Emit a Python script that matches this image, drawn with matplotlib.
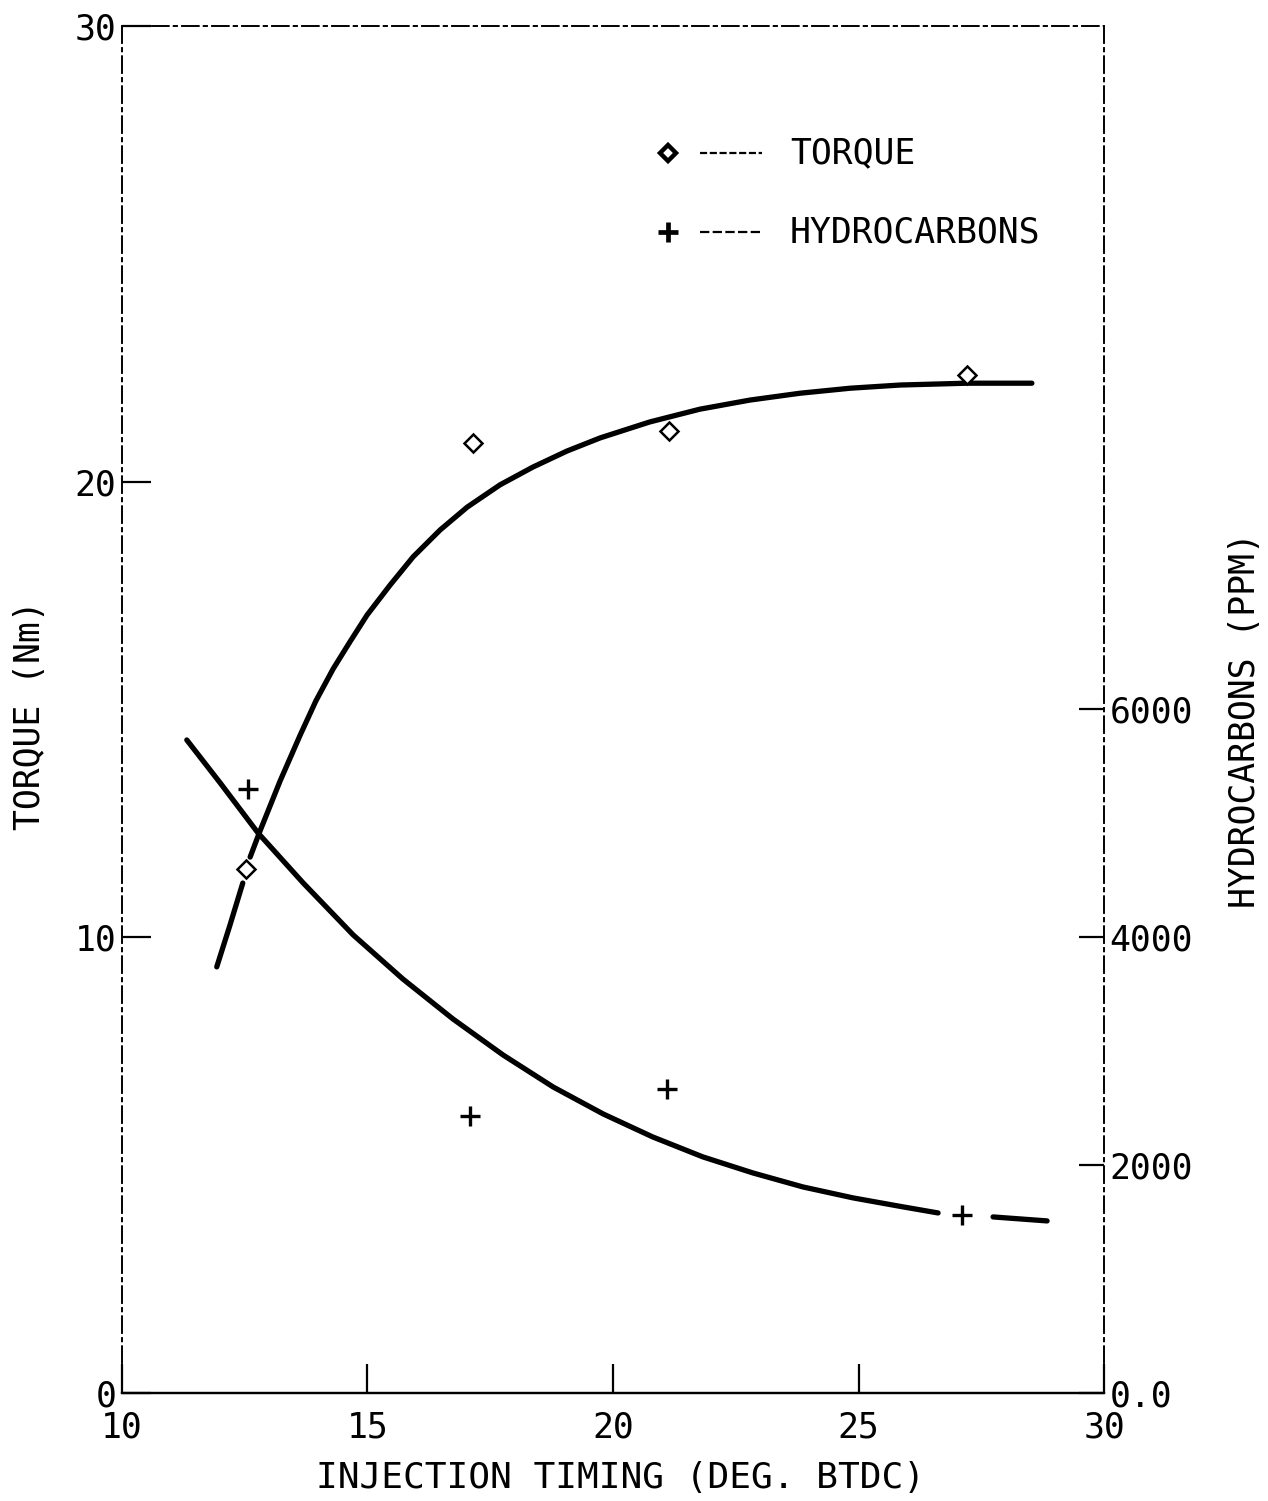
"""
torque_hc_plot.py
"""
import numpy as np
import matplotlib
matplotlib.use('Agg')
import matplotlib.pyplot as plt

plt.rcParams['font.family'] = ['DejaVu Sans Mono']
# ------------------------Measured points---------------------------------------
timing_pts = [12.53, 17.15, 21.15, 27.2]           # deg BTDC
torque_pts = [11.5, 20.85, 21.1, 22.35]            # Nm
hc_timing_pts = [12.57, 17.09, 21.1, 27.1]
hc_pts = [5300, 2430, 2670, 1565]                  # ppm
# ------------------------Fitted curves (nan = pen lifted)---------------------
torque_fit_x = [11.93, 12.20, 12.46, np.nan, 12.61, 12.81, 13.22, 13.63, 13.95,
                14.30, 14.64, 14.99, 15.46, 15.93, 16.48, 17.03, 17.70, 18.37,
                19.06, 19.74, 20.75, 21.77, 22.79, 23.81, 24.83, 25.85, 27.21,
                28.53]
torque_fit_y = [9.35, 10.27, 11.19, np.nan, 11.76, 12.33, 13.43, 14.44, 15.19,
                15.89, 16.48, 17.07, 17.73, 18.35, 18.94, 19.44, 19.93, 20.32,
                20.67, 20.96, 21.31, 21.59, 21.79, 21.94, 22.05, 22.12, 22.16,
                22.16]
hc_fit_x = [11.32, 12.00, 12.77, 13.69, 14.71, 15.72, 16.74, 17.76, 18.78, 19.80,
            20.81, 21.83, 22.85, 23.87, 24.89, 25.91, 26.62, np.nan, 27.74, 28.84]
hc_fit_y = [5732, 5355, 4916, 4477, 4020, 3634, 3283, 2967, 2686, 2449,
            2247, 2072, 1931, 1808, 1712, 1633, 1580, np.nan, 1545, 1510]
# ------------------------Axis ticks--------------------------------------------
x_ticks = [10, 15, 20, 25, 30]
torque_ticks = [0, 10, 20, 30]
hc_ticks = [0, 2000, 4000, 6000]
hc_tick_labels = ['0.0', '2000', '4000', '6000']
# ------------------------------------------------------------------------------
fs = 25
fig = plt.figure(figsize=(12.68, 15.01), dpi=100)
ax = fig.add_axes([0.0962, 0.0720, 0.7745, 0.9107])
ax2 = ax.twinx()

ax.plot(torque_fit_x, torque_fit_y, color='black', lw=3.8,
        solid_capstyle='round', solid_joinstyle='round')
ax.plot(timing_pts, torque_pts, ls='none', marker='D', ms=9, mfc='white',
        mec='black', mew=1.8, zorder=5)
ax2.plot(hc_fit_x, hc_fit_y, color='black', lw=3.8,
         solid_capstyle='round', solid_joinstyle='round')
ax2.plot(hc_timing_pts, hc_pts, ls='none', marker='+', ms=14, mec='black',
         mew=2.4, zorder=5)

ax.set_xlim(10, 30)
ax.set_ylim(0, 30)
ax2.set_ylim(0, 12000)

ax.set_xticks(x_ticks)
ax.set_yticks(torque_ticks)
ax2.set_yticks(hc_ticks)
ax2.set_yticklabels(hc_tick_labels)

ax.tick_params(axis='both', direction='in', length=21, width=1.6, labelsize=fs,
               top=False, right=False)
ax.tick_params(axis='x', pad=13)
ax.tick_params(axis='y', pad=4)
ax2.tick_params(axis='y', direction='in', length=18, width=1.6, labelsize=fs, pad=4)

# plotter-style frame
for a in (ax, ax2):
    for side in ('left', 'top', 'right'):
        a.spines[side].set_linestyle((0, (10, 3, 2, 3)))
        a.spines[side].set_linewidth(1.2)
    a.spines['bottom'].set_linewidth(1.6)

# key in the upper right
for yk, mk, ms, mew, ndash in [(0.907, 'D', 8, 3.2, (0, (3.2, 1.2))),
                                (0.849, '+', 14, 3.4, (0, (4.2, 1.5)))]:
    ax.plot([0.556], [yk], transform=ax.transAxes, marker=mk, ms=ms,
            mfc='white', mec='black', mew=mew, ls='none', clip_on=False)
    ax.plot([0.589, 0.652], [yk, yk], transform=ax.transAxes, color='black',
            lw=1.6, ls=ndash)
ax.text(0.680, 0.907, 'TORQUE', transform=ax.transAxes, fontsize=fs,
        va='center', ha='left')
ax.text(0.680, 0.849, 'HYDROCARBONS', transform=ax.transAxes, fontsize=fs,
        va='center', ha='left')

fig.text(0.489, 0.0153, 'INJECTION TIMING (DEG. BTDC)', fontsize=fs + 1,
         ha='center', va='center')
fig.text(0.0237, 0.5237, 'TORQUE (Nm)', fontsize=fs, rotation=90,
         ha='center', va='center')
fig.text(0.982, 0.520, 'HYDROCARBONS (PPM)', fontsize=fs, rotation=90,
         ha='center', va='center')

plt.savefig('out.png', dpi=100)
